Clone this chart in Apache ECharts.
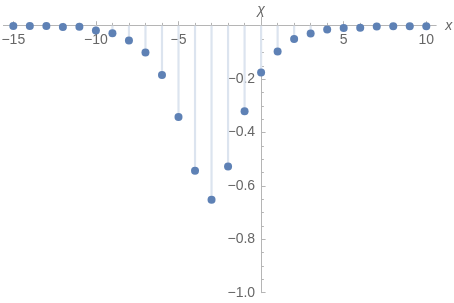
<!DOCTYPE html>
<html><head><meta charset="utf-8">
<script src="https://cdn.jsdelivr.net/npm/echarts@6/dist/echarts.min.js"></script>
<style>html,body{margin:0;padding:0;background:#fff}#c{width:454px;height:303px}</style>
</head><body><div id="c"></div>
<script>
const nValues = [-15,-14,-13,-12,-11,-10,-9,-8,-7,-6,-5,-4,-3,-2,-1,0,1,2,3,4,5,6,7,8,9,10];
const chiValues = [-0.001,-0.001,-0.001,-0.005,-0.004,-0.018,-0.028,-0.055,-0.100,-0.185,-0.342,-0.543,-0.652,-0.527,-0.320,-0.175,-0.097,-0.050,-0.029,-0.014,-0.009,-0.008,-0.003,-0.002,-0.002,-0.002];
const xMajorTicks = [-15,-10,-5,5,10];
const xMinorTicks = [-14,-13,-12,-11,-9,-8,-7,-6,-4,-3,-2,-1,1,2,3,4,6,7,8,9];
const yMajorTicks = [-1.0,-0.8,-0.6,-0.4,-0.2];
const yMinorTicks = [-0.95,-0.9,-0.85,-0.75,-0.7,-0.65,-0.55,-0.5,-0.45,-0.35,-0.3,-0.25,-0.15,-0.1,-0.05];
const xRange = [-15.6, 10.6];
const yRange = [-1.0, 0.033];

const axisGray = '#b5b5b5';
const labelGray = '#666';
const font = 'Liberation Sans, Arial, sans-serif';
const fmtX = v => String(Math.round(v)).replace('-', '\u2212');
const fmtY = v => v.toFixed(1).replace('-', '\u2212');

// pixel layout
const plotLeft = 3.4, plotWidth = 432.8;
const zeroY = 25.7, pxPerUnitY = 267;
const pxPerUnitX = plotWidth / (xRange[1] - xRange[0]);
const zeroX = plotLeft + (0 - xRange[0]) * pxPerUnitX;

const chart = echarts.init(document.getElementById('c'), null, {renderer: 'canvas'});
const pts = nValues.map((n, i) => [n, chiValues[i]]);
chart.setOption({
  animation: false,
  grid: [
    {left: plotLeft, top: zeroY, width: plotWidth, height: pxPerUnitY * (0 - yRange[0]), containLabel: false, outerBoundsMode: 'none'},
    {left: zeroX, top: zeroY - yRange[1] * pxPerUnitY, width: xRange[1] * pxPerUnitX, height: pxPerUnitY * (yRange[1] - yRange[0]), containLabel: false, outerBoundsMode: 'none'}
  ],
  xAxis: [{
    gridIndex: 0, type: 'value', min: xRange[0], max: xRange[1], position: 'top',
    axisLine: {show: true, onZero: false, lineStyle: {color: axisGray, width: 1}},
    axisTick: {show: true, inside: false, length: 4.5, customValues: xMajorTicks, lineStyle: {color: axisGray}},
    axisLabel: {show: true, inside: true, customValues: xMajorTicks, formatter: fmtX, color: labelGray, fontSize: 14, fontFamily: font, margin: 7},
    splitLine: {show: false},
    name: 'x', nameLocation: 'end', nameGap: 9,
    nameTextStyle: {fontStyle: 'italic', color: labelGray, fontSize: 14, fontFamily: font, verticalAlign: 'middle'}
  }, {
    gridIndex: 0, type: 'value', min: xRange[0], max: xRange[1], position: 'top',
    axisLine: {show: false, onZero: false},
    axisTick: {show: true, inside: false, length: 2.8, customValues: xMinorTicks, lineStyle: {color: axisGray}},
    axisLabel: {show: false},
    splitLine: {show: false}
  }, {
    gridIndex: 1, type: 'value', min: 0, max: xRange[1], show: false
  }],
  yAxis: [{
    gridIndex: 0, type: 'value', min: yRange[0], max: 0, show: false
  }, {
    gridIndex: 1, type: 'value', min: yRange[0], max: yRange[1], position: 'left',
    axisLine: {show: true, onZero: false, lineStyle: {color: axisGray, width: 1}},
    axisTick: {show: true, inside: true, length: 4.5, customValues: yMajorTicks, lineStyle: {color: axisGray}},
    axisLabel: {show: true, inside: false, customValues: yMajorTicks, formatter: fmtY, color: labelGray, fontSize: 14, fontFamily: font, margin: 6},
    splitLine: {show: false},
    name: 'χ', nameLocation: 'end', nameGap: 0,
    nameTextStyle: {fontStyle: 'italic', color: labelGray, fontSize: 14, fontFamily: font, align: 'center'}
  }, {
    gridIndex: 1, type: 'value', min: yRange[0], max: yRange[1], position: 'left',
    axisLine: {show: false, onZero: false},
    axisTick: {show: true, inside: true, length: 2.8, customValues: yMinorTicks, lineStyle: {color: axisGray}},
    axisLabel: {show: false},
    splitLine: {show: false}
  }],
  series: [{
    type: 'bar', xAxisIndex: 0, yAxisIndex: 0, data: pts, barWidth: 2.2,
    itemStyle: {color: '#dce4ef'}, silent: true, z: 1
  }, {
    type: 'scatter', xAxisIndex: 0, yAxisIndex: 0, data: pts, symbol: 'circle', symbolSize: 8, clip: false,
    itemStyle: {color: '#5e81b5', opacity: 1}, z: 3
  }]
});
</script></body></html>
